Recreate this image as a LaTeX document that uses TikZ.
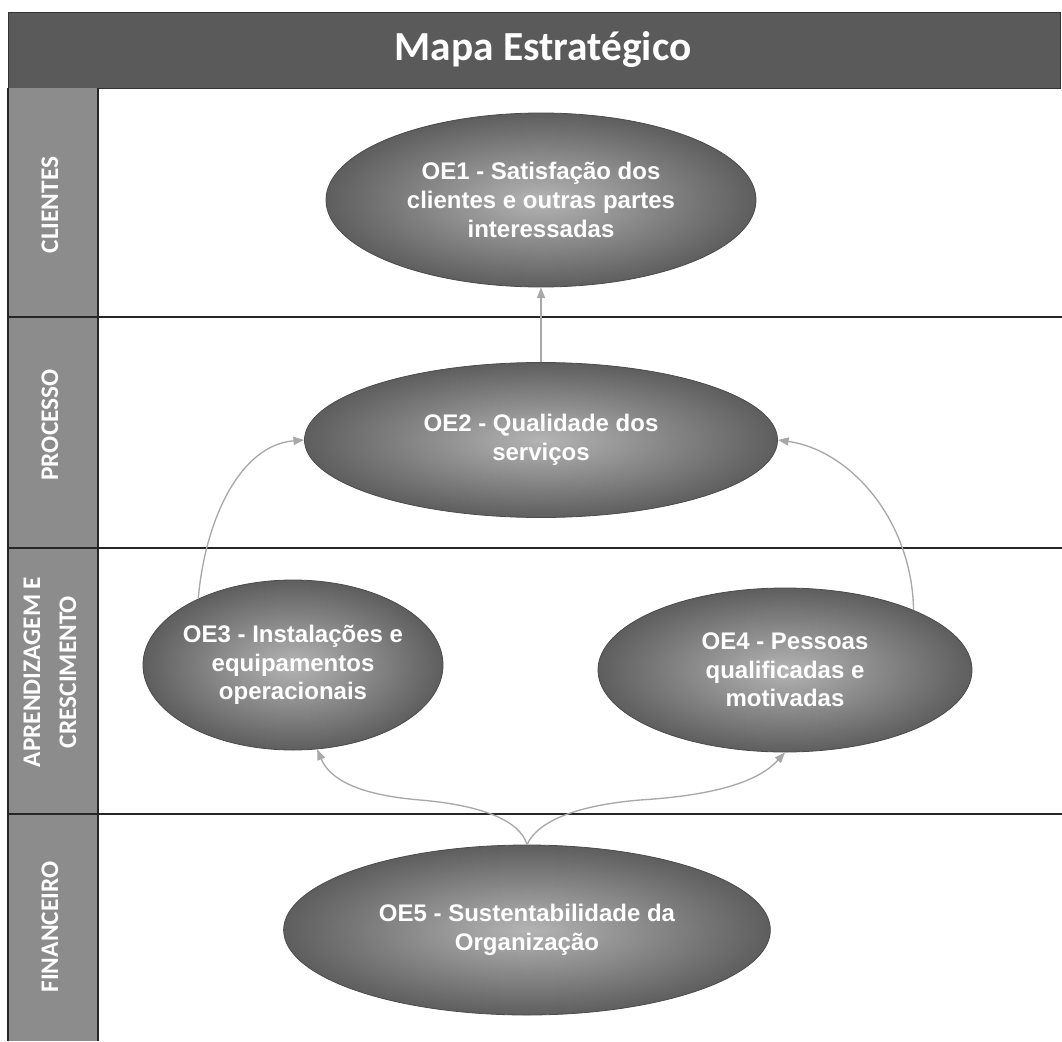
\documentclass[tikz,border=0pt]{standalone}
\usepackage{fontspec}
\setmainfont{Liberation Sans}
\newfontfamily\calfont{Carlito}
\usetikzlibrary{shapes.geometric,arrows.meta}
\definecolor{titlegray}{HTML}{5A5A5A}
\definecolor{lanegray}{HTML}{8C8C8C}
\definecolor{ellout}{HTML}{5E5E5E}
\definecolor{ellin}{HTML}{B4B4B4}
\definecolor{arrgray}{HTML}{A8A8A8}
\tikzset{
  objbox/.style={ellipse, inner sep=0pt, draw=ellout!80!black, line width=0.6pt,
    inner color=ellin, outer color=ellout},
  objtext/.style={text=white, align=center, inner sep=0pt,
    font=\bfseries\fontsize{18}{21.5}\selectfont},
  lanelabel/.style={rotate=90, text=white, align=center,
    font=\calfont\bfseries\fontsize{19}{27}\selectfont},
  link/.style={draw=arrgray, line width=1pt, -{Triangle[length=8pt,width=6pt]}},
  rule/.style={draw=black!85, line width=1.2pt}
}
\begin{document}
\begin{tikzpicture}[x=0.75pt,y=-0.75pt]
\useasboundingbox[fill=white] (0,0) rectangle (1062,1041);
% title bar
\node[fill=titlegray, draw=black!80, line width=1pt, minimum width=789pt, minimum height=57pt, inner sep=0pt, anchor=north west] (title) at (8,12) {};
\node[text=white, font=\calfont\bfseries\fontsize{31}{35}\selectfont] (titletext) at (543,50) {Mapa Estratégico};
% lane column
\fill[lanegray] (8,88) rectangle (98,1041);
\draw[rule] (8,88) -- (8,1041);
\draw[rule] (98,88) -- (98,1041);
\draw[rule] (8,317) -- (1062,317);
\draw[rule] (8,548) -- (1062,548);
\draw[rule] (8,814) -- (1062,814);
% lane labels
\node[lanelabel] (lc) at (50,205) {CLIENTES};
\node[lanelabel] (lp) at (50,425) {PROCESSO};
\node[lanelabel] (la) at (50,672) {APRENDIZAGEM E\\CRESCIMENTO};
\node[lanelabel] (lf) at (50,927) {FINANCEIRO};
% objectives
\node[objbox, minimum width=322.5pt, minimum height=130.5pt] (oe1) at (541,200) {};
\node[objtext] (oe1t) at (oe1) {OE1 - Satisfação dos\\clientes e outras partes\\interessadas};
\node[objbox, minimum width=354.75pt, minimum height=116.25pt] (oe2) at (541,440) {};
\node[objtext] (oe2t) at (oe2) {OE2 - Qualidade dos\\serviços};
\node[objbox, minimum width=225pt, minimum height=127.5pt] (oe3) at (293,665) {};
\node[objtext] (oe3t) at (oe3) {OE3 - Instalações e\\equipamentos\\operacionais};
\node[objbox, minimum width=280.5pt, minimum height=123pt] (oe4) at (785,670) {};
\node[objtext] (oe4t) at (oe4) {OE4 - Pessoas\\qualificadas e\\motivadas};
\node[objbox, minimum width=365pt, minimum height=127.5pt] (oe5) at (527,930) {};
\node[objtext] (oe5t) at (oe5) {OE5 - Sustentabilidade da\\Organização};
% links
\draw[link] (oe2.north) -- (oe1.south);
\draw[link] (oe3.145) .. controls (205,520) and (240,445) .. (oe2.west);
\draw[link] (oe4.25) .. controls (912,520) and (850,450) .. (oe2.east);
\draw[link] (oe5.north) .. controls (520,820) and (480,805) .. (420,800) .. controls (360,795) and (330,780) .. (oe3.-74);
\draw[link] (oe5.north) .. controls (538,820) and (580,805) .. (640,800) .. controls (720,795) and (760,780) .. (oe4.south);
\end{tikzpicture}
\end{document}
